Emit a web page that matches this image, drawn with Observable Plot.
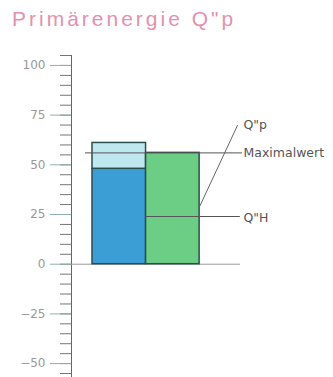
<!DOCTYPE html>
<html><head><meta charset="utf-8">
<script src="https://cdn.jsdelivr.net/npm/d3@7"></script>
<script src="https://cdn.jsdelivr.net/npm/@observablehq/plot@0.6"></script>
<style>
body{margin:0;background:#fff;font-family:"DejaVu Sans",sans-serif;}
#title{height:45px;padding-left:12px;font-size:20px;letter-spacing:3px;color:#e590ad;line-height:38px;white-space:nowrap;font-family:"Liberation Sans",sans-serif;font-size:21px;}
</style></head><body>
<div id="title">Primärenergie Q"p</div>
<div id="chart"></div>
<script>
// data
const barCategories = ["Q\"p", "Q\"p", "Q\"w"];
const barIndex = [0, 0, 1];
const barLow = [0, 48, 0];
const barHigh = [48, 61, 56];
const barPart = ["base", "top", "base"];
const maximalwert = 56;
const qhValue = 24;
const leaderFrom = 29;
const labelTexts = ["Q\"p", "Maximalwert", "Q\"H"];
const labelValues = [70, 55.8, 23.3];
const yTicks = [-50, -25, 0, 25, 50, 75, 100];
const minorTicks = d3.range(-55, 106, 5);

const partColor = {base: null, top: "#bfe7ef"};
const catColor = ["#3b9fd6", "#6ccd85"];
const labelX = 2.82, leaderX = 2.76;

const chart = Plot.plot({
  width: 333,
  height: 332,
  marginLeft: 71,
  marginRight: 0,
  marginTop: 10,
  marginBottom: 0,
  style: {fontFamily: "DejaVu Sans, sans-serif", background: "#fff"},
  x: {domain: [0, 4.5], insetLeft: 21, axis: null},
  y: {domain: [-57, 105], axis: null},
  marks: [
    Plot.axisY(minorTicks, {tickSize: 11, tickFormat: () => "", stroke: "#666", strokeOpacity: 0.9}),
    Plot.axisY(yTicks, {tickSize: 21, tickPadding: 5, fontSize: 12, fill: "#999", stroke: "#8fb0ae", strokeOpacity: 1}),
    Plot.frame({anchor: "left", stroke: "#666"}),
    Plot.ruleY([0], {insetRight: 93, stroke: "#999"}),
    Plot.rect(d3.range(barLow.length), {
      x1: i => barIndex[i],
      x2: i => barIndex[i] + 1,
      y1: i => barLow[i],
      y2: i => barHigh[i],
      fill: i => partColor[barPart[i]] || catColor[barIndex[i]],
      stroke: "#2a4d4d",
      strokeWidth: 1.5
    }),
    Plot.ruleY([maximalwert], {x1: -0.13, x2: leaderX + 0.04, stroke: "#555"}),
    Plot.ruleY([qhValue], {x1: 1, x2: leaderX, stroke: "#555"}),
    Plot.link([0], {x1: 2, y1: leaderFrom, x2: leaderX - 0.05, y2: labelValues[0], stroke: "#666"}),
    Plot.text(labelTexts, {x: labelX, y: (d, i) => labelValues[i], text: d => d, textAnchor: "start", fontSize: 12.5, fill: "#555"})
  ]
});
document.getElementById("chart").appendChild(chart);
</script>
</body></html>
